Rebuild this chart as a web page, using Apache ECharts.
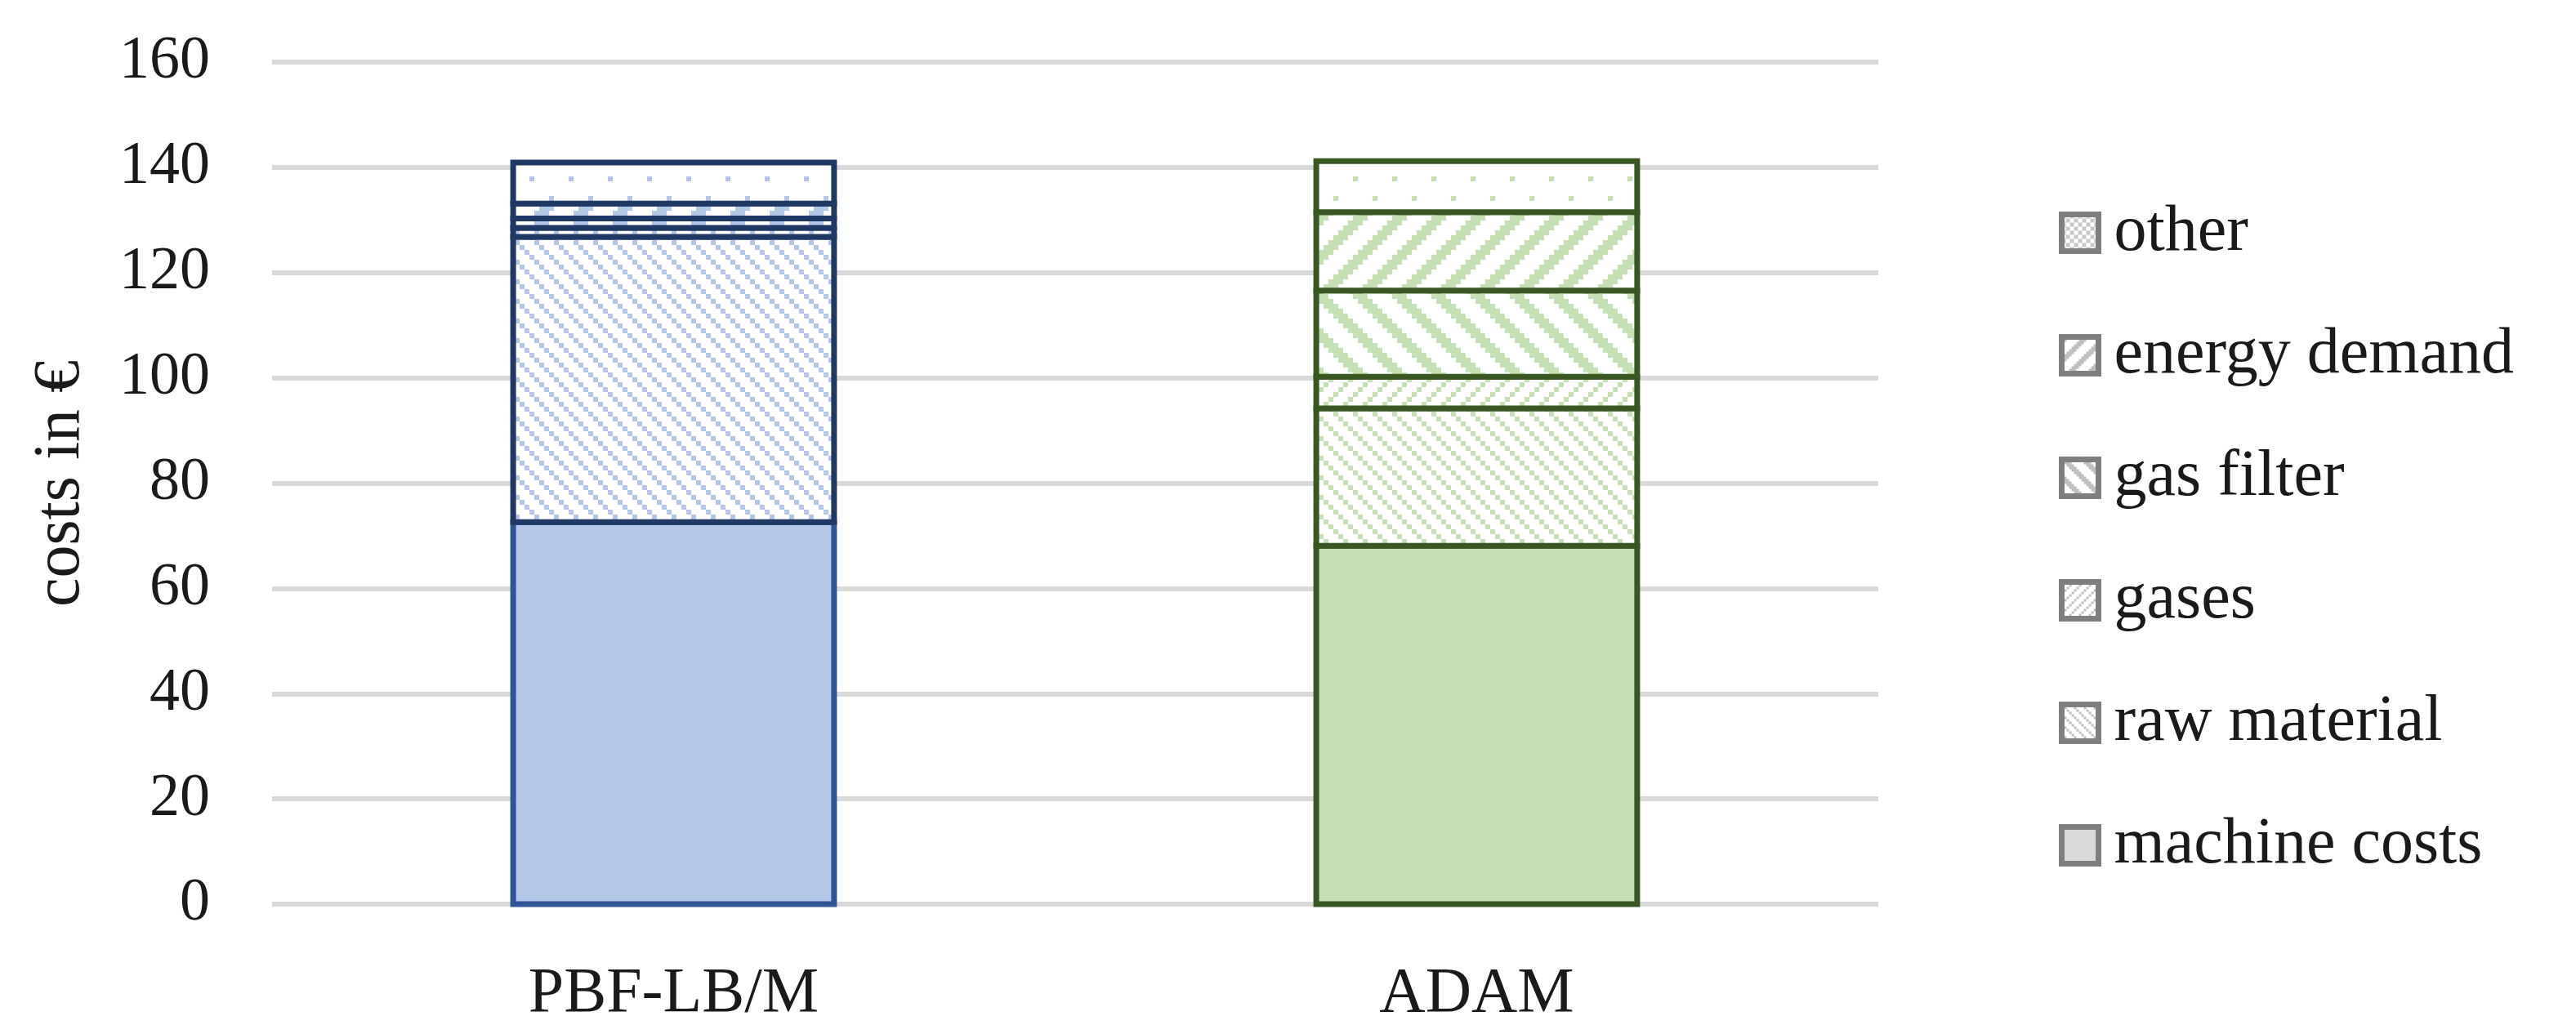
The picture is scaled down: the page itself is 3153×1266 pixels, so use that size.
<!DOCTYPE html>
<html><head><meta charset="utf-8">
<script src="https://cdn.jsdelivr.net/npm/echarts@6/dist/echarts.min.js"></script>
<style>html,body{margin:0;padding:0;background:#fff}#c{width:3153px;height:1266px}</style>
</head><body><div id="c"></div>
<script>
// ---- data ----
const categories = ['PBF-LB/M', 'ADAM'];
const seriesNames = ['machine costs', 'raw material', 'gases', 'gas filter', 'energy demand', 'other'];
const machineCosts = [72.6, 68.1];
const rawMaterial = [54.2, 26.1];
const gases = [1.7, 6.0];
const gasFilter = [1.8, 16.4];
const energyDemand = [2.8, 14.9];
const other = [7.8, 9.7];
const yMin = 0, yMax = 160, yStep = 20;
const yTitle = 'costs in €';

// ---- styles ----
const FONT = '"Liberation Serif", "Times New Roman", serif';
const TXT = '#1a1a1a';
const fillColors = ['#b4c7e7', '#c5e0b4'];
const borderColors = ['#1f3864', '#385723'];
const machineBorder = ['#2f5597', '#385723'];
const patternKinds = ['solid', 'ltDn', 'ltUp', 'wdDn', 'wdUp', 'pct5'];
const legendKinds = ['solid', 'ltDn', 'ltUp', 'wdDn', 'wdUp', 'checker'];
const BORDER = 7;

function test(kind, x, y) {
  switch (kind) {
    case 'ltDn': return (((x - y) % 4) + 4) % 4 === 0;
    case 'ltUp': return (x + y) % 4 === 0;
    case 'wdDn': return (((x - y) % 8) + 8) % 8 < 3;
    case 'wdUp': return (x + y) % 8 < 3;
    case 'pct5': return (x === 0 && y === 0) || (x === 4 && y === 4);
    case 'checker': return (x + y) % 2 === 0;
  }
  return true;
}
function pattern(kind, color, unit) {
  if (kind === 'solid') return color;
  const n = 8, c = document.createElement('canvas');
  c.width = c.height = n * unit;
  const g = c.getContext('2d');
  g.fillStyle = '#ffffff'; g.fillRect(0, 0, c.width, c.height);
  g.fillStyle = color;
  for (let y = 0; y < n; y++) for (let x = 0; x < n; x++)
    if (test(kind, x, y)) g.fillRect(x * unit, y * unit, unit, unit);
  return { image: c, repeat: 'repeat' };
}

const valueArrays = [machineCosts, rawMaterial, gases, gasFilter, energyDemand, other];

// stacked data: [categoryIndex, top, base]
const running = categories.map(() => 0);
const stackedData = valueArrays.map(arr => arr.map((v, i) => {
  const base = running[i];
  running[i] = base + v;
  return [i, base + v, base];
}));

function legendStyleFor(s) {
  return {
    color: s === 0 ? '#d9d9d9' : pattern(legendKinds[s], s === 5 ? '#c8c8c8' : '#bfbfbf', s === 5 ? 5 : 3),
    borderColor: '#7f7f7f', borderWidth: 7
  };
}

const series = seriesNames.map((name, s) => {
  const fills = fillColors.map(c => pattern(patternKinds[s], c, 6));
  const strokes = s === 0 ? machineBorder : borderColors;
  return {
    name, type: 'custom',
    itemStyle: legendStyleFor(s),
    encode: { x: 0, y: 1 },
    data: stackedData[s],
    renderItem: function (params, api) {
      const ci = api.value(0), top = api.value(1), base = api.value(2);
      const pTop = api.coord([ci, top]);
      const pBase = api.coord([ci, base]);
      const band = api.size([1, 0])[0];
      const w = band * 0.4067 - BORDER;
      return {
        type: 'rect',
        shape: { x: pTop[0] - w / 2, y: pTop[1], width: w, height: pBase[1] - pTop[1] },
        style: { fill: fills[ci], stroke: strokes[ci], lineWidth: BORDER }
      };
    }
  };
});

const legendData = seriesNames.slice().reverse().map((name) => {
  const s = seriesNames.indexOf(name);
  return { name, icon: 'rect', itemStyle: legendStyleFor(s) };
});

const chart = echarts.init(document.getElementById('c'), null, { renderer: 'canvas' });
chart.setOption({
  animation: false,
  backgroundColor: '#ffffff',
  grid: { left: 333, right: 854, top: 76, bottom: 159, containLabel: false },
  xAxis: {
    type: 'category', data: categories,
    axisLine: { show: false }, axisTick: { show: false },
    axisLabel: { fontFamily: FONT, fontSize: 78, color: TXT, margin: 72 }
  },
  yAxis: {
    type: 'value', min: yMin, max: yMax, interval: yStep,
    axisLine: { show: false }, axisTick: { show: false },
    axisLabel: { fontFamily: FONT, fontSize: 74, color: TXT, margin: 76 },
    splitLine: { lineStyle: { color: '#d9d9d9', width: 6 } }
  },
  legend: {
    orient: 'vertical', left: 2515, top: 240,
    icon: 'rect', itemWidth: 45, itemHeight: 45, itemGap: 70,
    selectedMode: false,
    itemStyle: { borderWidth: 7, borderColor: '#7f7f7f' },
    textStyle: { fontFamily: FONT, fontSize: 80, lineHeight: 78, color: TXT, padding: [0, 0, 0, 14] },
    data: legendData
  },
  graphic: [{
    type: 'text', x: 75, y: 592, rotation: Math.PI / 2,
    style: { text: yTitle, font: '80px ' + FONT, fill: TXT, align: 'center', verticalAlign: 'middle', textAlign: 'center', textVerticalAlign: 'middle' }
  }],
  series
});
</script>
</body></html>
